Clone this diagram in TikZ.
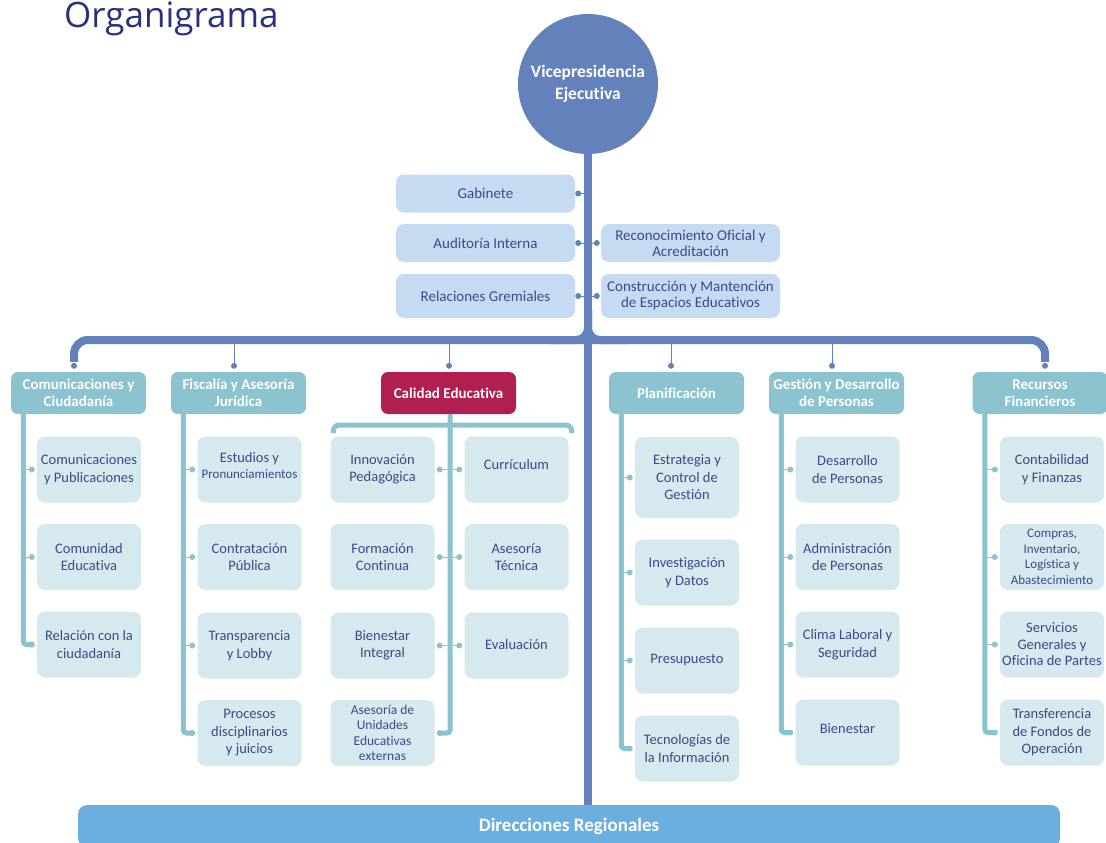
\documentclass[tikz,border=0pt]{standalone}
\usepackage{fontspec}
\setmainfont{Carlito}[Ligatures=NoCommon]
\newfontfamily\titlefont{Open Sans}
\usetikzlibrary{calc}
\definecolor{titlenavy}{HTML}{2B2F7C}
\definecolor{trunkblue}{HTML}{6381BB}
\definecolor{boxblue}{HTML}{C6DBF1}
\definecolor{txtnavy}{HTML}{3B4A8A}
\definecolor{hdrteal}{HTML}{8BC3CF}
\definecolor{childfill}{HTML}{D6E9EE}
\definecolor{crimson}{HTML}{B11F50}
\definecolor{barblue}{HTML}{6BAFDE}
\tikzset{
  topbox/.style={fill=boxblue, rounded corners=8pt, text=txtnavy, align=center,
    font=\fontsize{15}{16}\selectfont, inner sep=0pt, minimum width=179pt},
  hdr/.style={fill=hdrteal, rounded corners=7pt, text=white, align=center,
    font=\bfseries\fontsize{15}{17.5}\selectfont, minimum width=135pt, minimum height=42pt, inner sep=0pt},
  child/.style={fill=childfill, rounded corners=8pt, text=txtnavy, align=center,
    font=\fontsize{14.5}{17.5}\selectfont, minimum width=104pt, minimum height=66pt, inner sep=0pt},
  smalltxt/.style={font=\fontsize{13.5}{15.5}\selectfont},
  trunk/.style={draw=trunkblue, line width=8pt},
  bus/.style={draw=trunkblue, line width=8pt},
  thinblue/.style={draw=trunkblue, line width=1pt},
  spine/.style={draw=hdrteal, line width=5pt, rounded corners=3pt},
  tick/.style={draw=hdrteal, line width=1pt},
  bdot/.style={fill=trunkblue},
  tdot/.style={fill=hdrteal},
}
\begin{document}
\begin{tikzpicture}[x=1pt,y=-1pt]
\clip (0,0) rectangle (1106,843);
\fill[white] (0,0) rectangle (1106,843);

% title
\node[anchor=base west, inner sep=0pt, font=\titlefont\fontsize{35}{40}\selectfont, text=titlenavy] (title) at (64,28) {Organigrama};

% top
\node[circle, fill=trunkblue, minimum size=140pt, inner sep=0pt, text=white, align=center,
  font=\bfseries\fontsize{17.5}{22}\selectfont] (vp) at (588,84) {Vicepresidencia\\Ejecutiva};

\node[topbox, minimum height=38pt] (gab) at (485.5,193.5) {Gabinete};
\node[topbox, minimum height=38pt] (aud) at (485.5,243) {Auditoría Interna};
\node[topbox, minimum height=44pt] (rel) at (485.5,296) {Relaciones Gremiales};
\node[topbox, minimum height=38pt] (rec) at (690.5,243) {Reconocimiento Oficial y\\Acreditación};
\node[topbox, minimum height=44pt] (con) at (690.5,296) {Construcción y Mantención\\de Espacios Educativos};

% bottom bar
\node[fill=barblue, rounded corners=9pt, minimum width=982pt, minimum height=42pt, inner sep=0pt,
  text=white, font=\bfseries\fontsize{19}{22}\selectfont] (dr) at (569,826) {Direcciones Regionales};

% headers
\node[hdr] (hc1) at (78.5,393) {Comunicaciones y\\Ciudadanía};
\node[hdr] (hc2) at (238.5,393) {Fiscalía y Asesoría\\Jurídica};
\node[hdr, fill=crimson] (cal) at (448.5,393) {Calidad Educativa};
\node[hdr] (hp) at (676.5,393) {Planificación};
\node[hdr] (hg) at (836.5,393) {Gestión y Desarrollo\\de Personas};
\node[hdr] (hr) at (1040,393) {Recursos\\Financieros};

% column 1
\node[child] (c11) at (89,469.5) {Comunicaciones\\y Publicaciones};
\node[child] (c12) at (89,557) {Comunidad\\Educativa};
\node[child] (c13) at (89,644.5) {Relación con la\\ciudadanía};
% column 2
\node[child] (c21) at (249.5,469.5) {\raisebox{18pt}{\begin{tabular}{@{}c@{}}Estudios y\\[-1.5pt]{\fontsize{13}{15}\selectfont Pronunciamientos}\end{tabular}}};
\node[child] (c22) at (249.5,557) {Contratación\\Pública};
\node[child] (c23) at (249.5,645.5) {Transparencia\\y Lobby};
\node[child] (c24) at (249.5,733) {Procesos\\disciplinarios\\y juicios};
% calidad
\node[child] (cl1) at (382.5,469.5) {\raisebox{12pt}{\begin{tabular}{@{}c@{}}Innovación\\[-1pt]Pedagógica\end{tabular}}};
\node[child] (cl2) at (382.5,557) {Formación\\Continua};
\node[child] (cl3) at (382.5,645.5) {Bienestar\\Integral};
\node[child, smalltxt] (cl4) at (382.5,733) {Asesoría de\\Unidades\\Educativas\\externas};
\node[child] (cr1) at (516.5,469.5) {\raisebox{10pt}{Currículum}};
\node[child] (cr2) at (516.5,557) {Asesoría\\Técnica};
\node[child] (cr3) at (516.5,645.5) {\raisebox{3pt}{Evaluación}};
% planificacion
\node[child, minimum height=81pt] (p1) at (687,477.5) {Estrategia y\\Control de\\Gestión};
\node[child] (p2) at (687,572.5) {Investigación\\y Datos};
\node[child] (p3) at (687,660.5) {Presupuesto};
\node[child] (p4) at (687,748.5) {Tecnologías de\\la Información};
% gestion
\node[child] (g1) at (847.5,469.5) {Desarrollo\\de Personas};
\node[child] (g2) at (847.5,557) {Administración\\de Personas};
\node[child] (g3) at (847.5,644.5) {Clima Laboral y\\Seguridad};
\node[child] (g4) at (847.5,732.5) {\raisebox{7pt}{Bienestar}};
% recursos
\node[child] (r1) at (1052,469.5) {Contabilidad\\y Finanzas};
\node[child, font=\fontsize{13}{15.5}\selectfont] (r2) at (1052,557) {Compras,\\Inventario,\\Logística y\\Abastecimiento};
\node[child, font=\fontsize{14.5}{16.5}\selectfont] (r3) at (1052,644.5) {Servicios\\Generales y\\Oficina de Partes};
\node[child] (r4) at (1052,732.5) {Transferencia\\de Fondos de\\Operación};

% trunk
\draw[trunk] (vp.south) -- (vp.south |- dr.north);
% bus
\coordinate (busy) at (0,340);
\draw[bus, rounded corners=14pt] ([xshift=-4.5pt,yshift=10pt]hc1.north) -- ([xshift=-4.5pt]hc1.north |- busy) -- ([xshift=5pt]hr.north |- busy) -- ([xshift=5pt,yshift=10pt]hr.north);
\draw[bus, rounded corners=12pt] ([xshift=-40pt]vp.south |- busy) -- (vp.south |- busy) -- ([yshift=30pt]vp.south |- busy);
\draw[bus, rounded corners=12pt] ([xshift=40pt]vp.south |- busy) -- (vp.south |- busy) -- ([yshift=30pt]vp.south |- busy);
\fill[bdot] ([xshift=-4.5pt,yshift=6pt]hc1.north) circle (3pt);
\fill[bdot] ([xshift=5pt,yshift=6pt]hr.north) circle (3pt);
\foreach \h/\dx in {hc2/-4.5, cal/0.5, hp/-5.5, hg/-4.5} {
  \draw[thinblue] ([xshift=\dx pt]\h.north |- busy) -- ([xshift=\dx pt,yshift=6pt]\h.north);
  \fill[bdot] ([xshift=\dx pt,yshift=6pt]\h.north) circle (3pt);
}

% top box links
\foreach \b in {gab,aud,rel} {
  \draw[thinblue] ([xshift=3pt]\b.east) -- (\b.east -| vp.south);
  \fill[bdot] ([xshift=3pt]\b.east) circle (3pt);
}
\foreach \b in {rec,con} {
  \draw[thinblue] ([xshift=-4pt]\b.west) -- (\b.west -| vp.south);
  \fill[bdot] ([xshift=-4pt]\b.west) circle (3pt);
}

% spines for standard columns
\foreach \h/\a/\b/\c/\d in {hc1/c11/c12/c13/c13, hc2/c21/c22/c23/c24, hp/p1/p2/p3/p4, hg/g1/g2/g3/g4, hr/r1/r2/r3/r4} {
  \coordinate (sp) at ([xshift=12.5pt]\h.south west);
  \draw[spine] (sp) |- ([xshift=-5pt]\d.west);
  \foreach \k in {\a,\b,\c,\d} {
    \draw[tick] (sp |- \k.west) -- ([xshift=-5pt]\k.west);
    \fill[tdot] ([xshift=-5pt]\k.west) circle (3pt);
  }
}

% calidad
\coordinate (brk) at (0,425);
\coordinate (brkend) at (0,433);
\draw[spine, rounded corners=6pt] ([xshift=3pt]cl1.north west |- brkend) -- ([xshift=3pt]cl1.north west |- brk) -- ([xshift=3pt]cr1.north east |- brk) -- ([xshift=3pt]cr1.north east |- brkend);
\draw[spine] ([xshift=1.5pt]cal.south) |- ([xshift=5pt]cl4.east);
\fill[tdot] ([xshift=5pt]cl4.east) circle (3pt);
\foreach \l/\r in {cl1/cr1, cl2/cr2, cl3/cr3} {
  \draw[tick] ([xshift=5pt]\l.east) -- ([xshift=-5pt]\r.west);
  \fill[tdot] ([xshift=5pt]\l.east) circle (3pt);
  \fill[tdot] ([xshift=-5pt]\r.west) circle (3pt);
}
\end{tikzpicture}
\end{document}
